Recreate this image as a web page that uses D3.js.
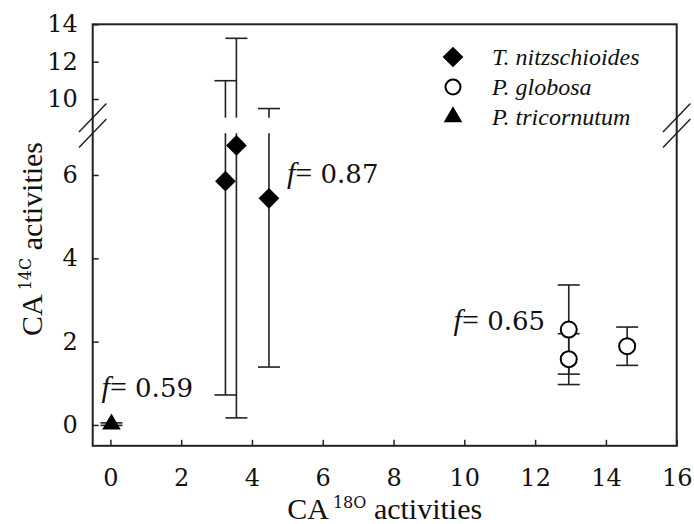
<!DOCTYPE html>
<html>
<head>
<meta charset="utf-8">
<script src="https://cdn.jsdelivr.net/npm/d3@7"></script>
<style>
  html, body { margin: 0; padding: 0; background: #fff; }
  svg { display: block; }
</style>
</head>
<body>
<svg id="chart" width="694" height="524"></svg>
<script>
// ---- data ----
const seriesNames = ["T. nitzschioides", "P. globosa", "P. tricornutum"];
const tnX = [3.25, 3.56, 4.48];
const tnY = [5.85, 6.71, 5.44];
const tnErr = [5.13, 6.54, 4.05];
const pgX = [12.95, 12.95, 14.6];
const pgY = [2.29, 1.58, 1.89];
const pgErr = [1.07, 0.61, 0.46];
const ptX = [0.03];
const ptY = [0.02];
const ptErr = [0.03];
const xTicks = [0, 2, 4, 6, 8, 10, 12, 14, 16];
const yLowTicks = [0, 2, 4, 6];
const yHighTicks = [10, 12, 14];
const fLabels = ["0.87", "0.65", "0.59"];

// ---- layout ----
const FONT = '"Liberation Serif", "Times New Roman", "DejaVu Serif", serif';
const NUMFONT = '"DejaVu Serif", serif';
function numStyle(sel) { return sel.style("font-family", NUMFONT); }

const svg = d3.select("#chart");
const L = 92.7, R = 676.7, T = 24.3, B = 445.8;
const x = d3.scaleLinear().domain([-0.5, 16]).range([L, R]);
const yLow = d3.scaleLinear().domain([-0.5, 7]).range([B, 133.3]);
const yHigh = d3.scaleLinear().domain([9, 14]).range([117.7, T]);
const lowMax = 7, highMin = 9;
function yPos(v) { return v <= lowMax ? yLow(v) : yHigh(v); }

const tickFont = 24;

// frame
svg.append("rect").attr("x", L).attr("y", T).attr("width", R - L).attr("height", B - T)
  .attr("fill", "none").attr("stroke", "#222").attr("stroke-width", 2);

// x axis ticks (inward)
const gx = svg.append("g").attr("transform", `translate(0,${B})`)
  .call(d3.axisBottom(x).tickValues(xTicks).tickSizeInner(-6).tickSizeOuter(0).tickFormat(d3.format("d")));
gx.select(".domain").remove();
gx.selectAll(".tick line").attr("stroke", "#222").attr("stroke-width", 1.5);
gx.selectAll(".tick text").attr("font-size", tickFont).attr("fill", "#111")
  .attr("dy", "0.71em").attr("y", 23).call(numStyle);

// y axes (inward)
function styleY(g) {
  g.select(".domain").remove();
  g.selectAll(".tick line").attr("stroke", "#222").attr("stroke-width", 1.5);
  g.selectAll(".tick text").attr("font-size", tickFont).attr("fill", "#111")
    .attr("x", -15).call(numStyle);
}
svg.append("g").attr("transform", `translate(${L},0)`)
  .call(d3.axisLeft(yLow).tickValues(yLowTicks).tickSizeInner(-6).tickSizeOuter(0).tickFormat(d3.format("d")))
  .call(styleY);
svg.append("g").attr("transform", `translate(${L},0)`)
  .call(d3.axisLeft(yHigh).tickValues(yHighTicks).tickSizeInner(-6).tickSizeOuter(0).tickFormat(d3.format("d")))
  .call(styleY);

// axis break marks
const yb1 = yHigh(highMin), yb2 = yLow(lowMax);
[L, R].forEach(ax => {
  [yb1, yb2].forEach(yb => {
    svg.append("line").attr("x1", ax - 13.7).attr("y1", yb + 14.2)
      .attr("x2", ax + 13.7).attr("y2", yb - 14.2)
      .attr("stroke", "#222").attr("stroke-width", 1.5);
  });
});

// error bars
const capW = 11;
function errorBars(xs, ys, es) {
  const g = svg.append("g").attr("stroke", "#222").attr("stroke-width", 1.6).attr("fill", "none");
  xs.forEach((xv, i) => {
    const lo = ys[i] - es[i], hi = ys[i] + es[i];
    const px = x(xv);
    if (hi > lowMax) {
      g.append("line").attr("x1", px).attr("x2", px).attr("y1", yPos(lo)).attr("y2", yLow(lowMax));
      g.append("line").attr("x1", px).attr("x2", px).attr("y1", yHigh(highMin)).attr("y2", yPos(hi));
    } else {
      g.append("line").attr("x1", px).attr("x2", px).attr("y1", yPos(lo)).attr("y2", yPos(hi));
    }
    [lo, hi].forEach(v => {
      g.append("line").attr("x1", px - capW).attr("x2", px + capW).attr("y1", yPos(v)).attr("y2", yPos(v));
    });
  });
}
errorBars(tnX, tnY, tnErr);
errorBars(pgX, pgY, pgErr);
errorBars(ptX, ptY, ptErr);

// markers
const diamond = d3.symbol().type(d3.symbolSquare).size(215)();
const triangle = d3.symbol().type(d3.symbolTriangle).size(150)();
tnX.forEach((xv, i) => {
  svg.append("path").attr("d", diamond)
    .attr("transform", `translate(${x(xv)},${yPos(tnY[i])}) rotate(45)`).attr("fill", "#000");
});
pgX.forEach((xv, i) => {
  svg.append("circle").attr("cx", x(xv)).attr("cy", yPos(pgY[i])).attr("r", 8)
    .attr("fill", "#fff").attr("stroke", "#000").attr("stroke-width", 2);
});
ptX.forEach((xv, i) => {
  svg.append("path").attr("d", triangle)
    .attr("transform", `translate(${x(xv)},${yPos(ptY[i])})`).attr("fill", "#000");
});

// f annotations
function fLabel(px, py, val, anchor) {
  const t = svg.append("text").attr("x", px).attr("y", py).attr("font-size", 30)
    .attr("fill", "#111").attr("text-anchor", anchor).style("font-family", FONT);
  t.append("tspan").attr("font-style", "italic").text("f");
  t.append("tspan").text("=");
  t.append("tspan").attr("font-size", 26).call(numStyle).text(" " + val);
}
fLabel(x(4.99), yLow(5.81), fLabels[0], "start");
fLabel(x(12.28), yLow(2.28), fLabels[1], "end");
fLabel(x(-0.25), yLow(0.68), fLabels[2], "start");

// legend
const legX = 453, legTextX = 492, legY0 = 57, legDy = 30;
const lg = svg.append("g");
seriesNames.forEach((name, i) => {
  const cy = legY0 + i * legDy;
  if (i === 0) lg.append("path").attr("d", diamond).attr("transform", `translate(${legX},${cy}) rotate(45)`).attr("fill", "#000");
  if (i === 1) lg.append("circle").attr("cx", legX).attr("cy", cy).attr("r", 7.5).attr("fill", "#fff").attr("stroke", "#000").attr("stroke-width", 2);
  if (i === 2) lg.append("path").attr("d", triangle).attr("transform", `translate(${legX},${cy})`).attr("fill", "#000");
  lg.append("text").attr("x", legTextX).attr("y", cy + 8).attr("font-size", 24)
    .attr("font-style", "italic").attr("fill", "#111").style("font-family", FONT).text(name);
});

// axis titles
function title(g, sup) {
  g.append("tspan").text("CA");
  g.append("tspan").attr("font-size", 16).attr("dx", 4).attr("dy", -11).call(numStyle).text(sup);
  g.append("tspan").attr("dy", 11).text(" activities");
}
const xt = svg.append("text").attr("x", (L + R) / 2).attr("y", 519).attr("text-anchor", "middle")
  .attr("font-size", 30).attr("fill", "#111").style("font-family", FONT);
title(xt, "18O");
const yt = svg.append("text").attr("transform", "translate(42,239) rotate(-90)").attr("text-anchor", "middle")
  .attr("font-size", 30).attr("fill", "#111").style("font-family", FONT);
title(yt, "14C");
</script>
</body>
</html>
